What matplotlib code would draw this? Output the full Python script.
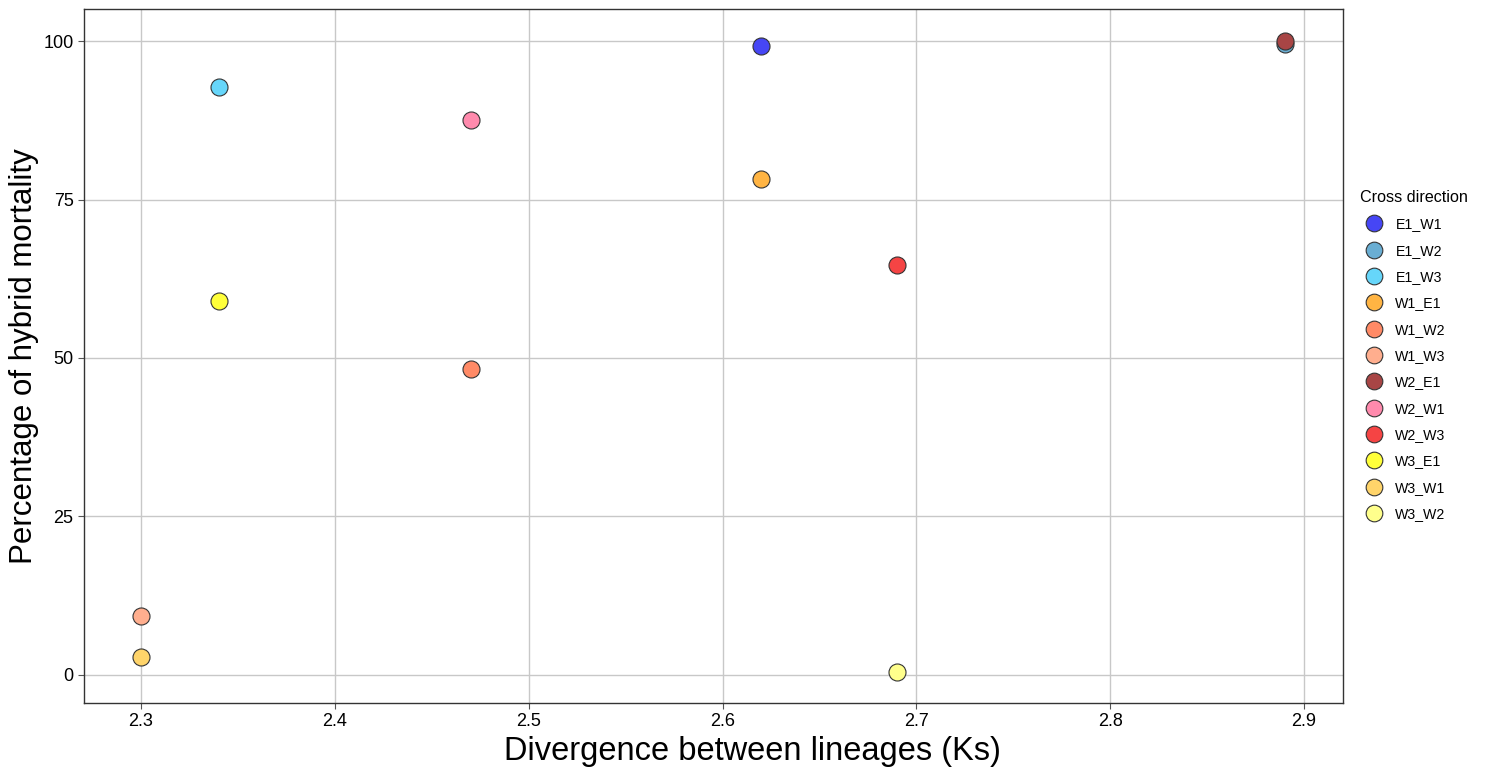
import matplotlib
matplotlib.use("Agg")
import matplotlib.pyplot as plt
from matplotlib.lines import Line2D

plt.rcParams['font.family'] = ['Liberation Sans', 'DejaVu Sans']

# Cross directions and their values
crosses = ['E1_W1', 'E1_W2', 'E1_W3', 'W1_E1', 'W1_W2', 'W1_W3',
           'W2_E1', 'W2_W1', 'W2_W3', 'W3_E1', 'W3_W1', 'W3_W2']
ks = [2.62, 2.89, 2.34, 2.62, 2.47, 2.30, 2.89, 2.47, 2.69, 2.34, 2.30, 2.69]
mortality = [99.2, 99.5, 92.8, 78.2, 48.2, 9.3, 100.0, 87.5, 64.6, 59.0, 2.9, 0.5]
colors = ['#4646F5', '#6AAED3', '#66D6FA', '#FFB443', '#FF8A66', '#FFAE8E',
          '#A84545', '#FF8AAD', '#F54444', '#FFFF3A', '#FFD46A', '#FFFF8C']

fig = plt.figure(figsize=(14.91, 7.69), dpi=100)
ax = fig.add_axes([84/1491, 1 - 703/769, (1343-84)/1491, (703-9)/769])

for x, y, c in zip(ks, mortality, colors):
    ax.scatter(x, y, s=150, color=c, edgecolors='#333333', linewidths=0.8, zorder=3)

ax.set_xlim(2.2706, 2.9201)
ax.set_ylim(-4.42, 105.05)
ax.set_xticks([2.3, 2.4, 2.5, 2.6, 2.7, 2.8, 2.9])
ax.set_yticks([0, 25, 50, 75, 100])
ax.grid(True, color='#C8C8C8', linewidth=1)
ax.set_axisbelow(True)
ax.tick_params(labelsize=13, color='#555555', length=4)
for sp in ax.spines.values():
    sp.set_color('#333333')
    sp.set_linewidth(1)

ax.set_xlabel('Divergence between lineages (Ks)', fontsize=23.5)
ax.xaxis.set_label_coords((752 - 84) / 1259, -0.047, transform=ax.transAxes)
ax.xaxis.label.set_va('top')
ax.set_ylabel('Percentage of hybrid mortality', fontsize=22.5, labelpad=3)

handles = [Line2D([], [], marker='o', linestyle='', markersize=12,
                  markerfacecolor=c, markeredgecolor='#333333', markeredgewidth=0.8)
           for c in colors]
leg = fig.legend(handles, crosses, title='Cross direction', loc='upper left',
                 bbox_to_anchor=(1360/1491, 1 - 190/769), frameon=False,
                 fontsize=10.2, title_fontsize=11.6, labelspacing=0.87,
                 handletextpad=0.5, borderaxespad=0, borderpad=0)
leg._legend_box.align = 'left'

fig.savefig('out.png', dpi=100)
